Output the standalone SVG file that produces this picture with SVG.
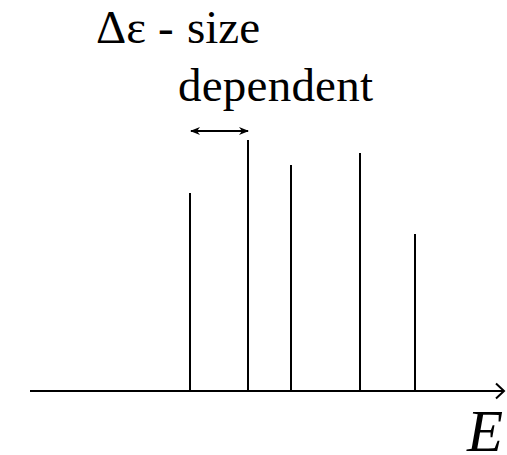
<svg xmlns="http://www.w3.org/2000/svg" width="507" height="455" viewBox="0 0 507 455">
<defs>
<marker id="ah" viewBox="0 0 10 10" refX="9" refY="5" markerWidth="10" markerHeight="10" markerUnits="userSpaceOnUse" orient="auto-start-reverse">
<path d="M0,1 L10,5 L0,9 L3,5 Z" fill="#000"/>
</marker>
<style>
.ln{stroke:#000;stroke-width:2;fill:none}
.t{font-family:"Liberation Serif","Times New Roman",serif;fill:#000}
</style>
</defs>
<g id="connectors">
<line class="ln" x1="30" y1="391" x2="504" y2="391"/>
<polyline class="ln" points="496,383.5 504,391 496,398.5"/>
<line class="ln" x1="191" y1="131" x2="248" y2="131" marker-start="url(#ah)" marker-end="url(#ah)"/>
</g>
<g id="lines">
<line class="ln" x1="190" y1="193" x2="190" y2="391"/>
<line class="ln" x1="248" y1="140" x2="248" y2="391"/>
<line class="ln" x1="291" y1="165" x2="291" y2="391"/>
<line class="ln" x1="360" y1="153" x2="360" y2="391"/>
<line class="ln" x1="415" y1="234" x2="415" y2="391"/>
</g>
<g id="label">
<text class="t" y="43" font-size="47"><tspan x="96" textLength="50" lengthAdjust="spacingAndGlyphs">Δε</tspan><tspan x="158">-</tspan><tspan x="187">size</tspan></text>
<text class="t" x="178" y="101" font-size="47" textLength="195">dependent</text>
</g>
<g id="axis-label">
<text class="t" x="467" y="451" font-size="59" font-style="italic">E</text>
</g>
</svg>
